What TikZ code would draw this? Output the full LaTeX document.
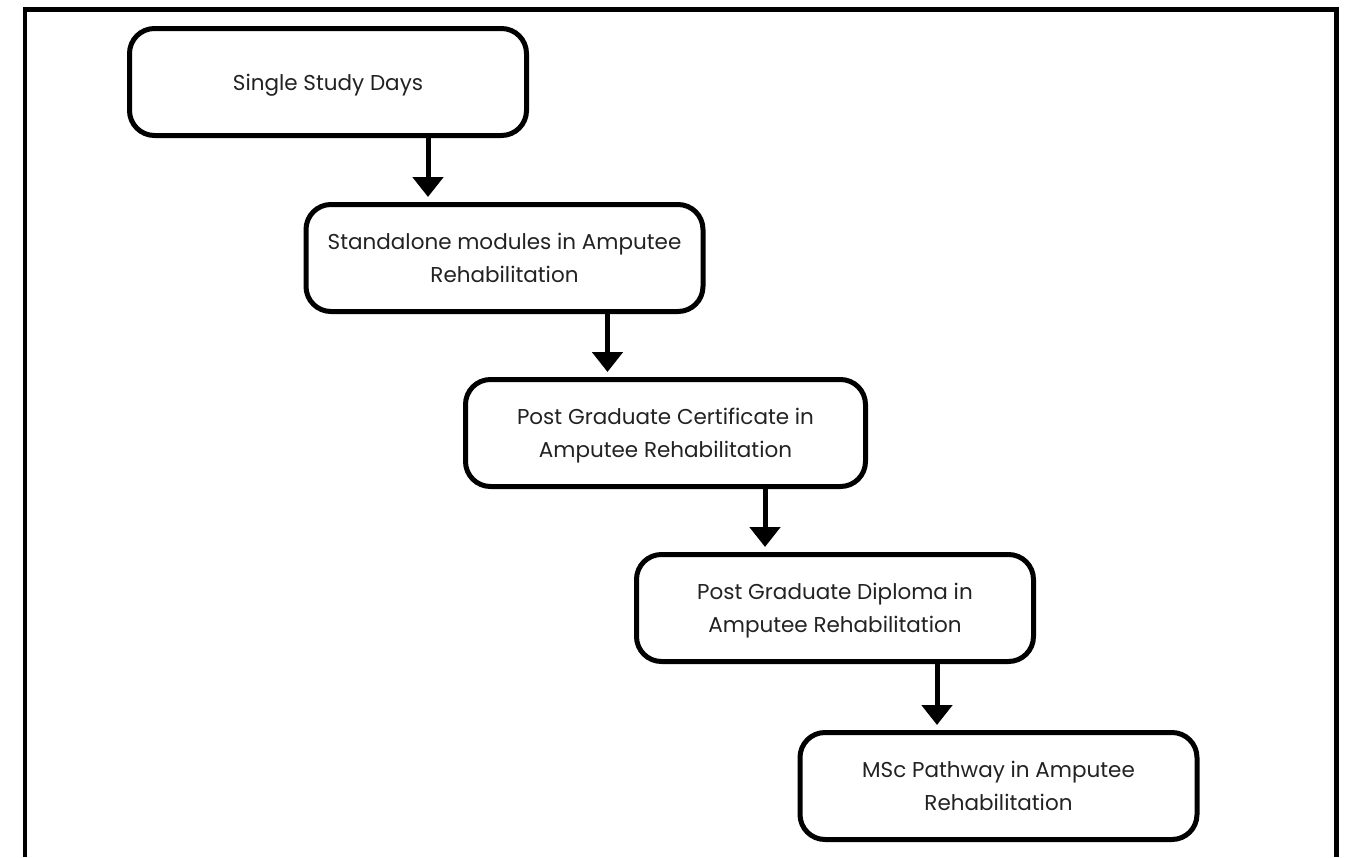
\documentclass[tikz,border=0pt]{standalone}
\usepackage{fontspec}
\setmainfont{Poppins}
\usetikzlibrary{arrows.meta}
\definecolor{txt}{HTML}{222222}
\tikzset{
  stagebox/.style={draw=black, line width=5pt, rounded corners=25pt,
    minimum width=397pt, minimum height=107pt, inner sep=0pt, text depth=0pt,
    align=center, text=txt, font=\fontsize{21.5}{32.5}\selectfont},
  flowarrow/.style={line width=5pt, -{Triangle[width=30pt,length=20pt]}, shorten >=5pt},
  frameline/.style={line width=4.7pt, line cap=butt, line join=miter}
}
\begin{document}
\begin{tikzpicture}[x=1pt, y=-1pt]
\useasboundingbox (0,0) rectangle (1347,857);
\draw[frameline] (25,857) -- (25,9.7) -- (1336.5,9.7) -- (1336.5,857);
\node[stagebox] (b1) at (328,82) {Single Study Days};
\node[stagebox] (b2) at (504.5,258) {Standalone modules in Amputee\\Rehabilitation};
\node[stagebox, minimum width=400pt] (b3) at (665.5,433) {Post Graduate Certificate in\\Amputee Rehabilitation};
\node[stagebox] (b4) at (835,608) {Post Graduate Diploma in\\Amputee Rehabilitation};
\node[stagebox] (b5) at (998.5,786) {MSc Pathway in Amputee\\Rehabilitation};
\draw[flowarrow] ([xshift=-101pt]b1.south east) -- ([xshift=-101pt]b1.south east |- b2.north);
\draw[flowarrow] ([xshift=-98pt]b2.south east) -- ([xshift=-98pt]b2.south east |- b3.north);
\draw[flowarrow] ([xshift=-103pt]b3.south east) -- ([xshift=-103pt]b3.south east |- b4.north);
\draw[flowarrow] ([xshift=-99pt]b4.south east) -- ([xshift=-99pt]b4.south east |- b5.north);
\end{tikzpicture}
\end{document}
